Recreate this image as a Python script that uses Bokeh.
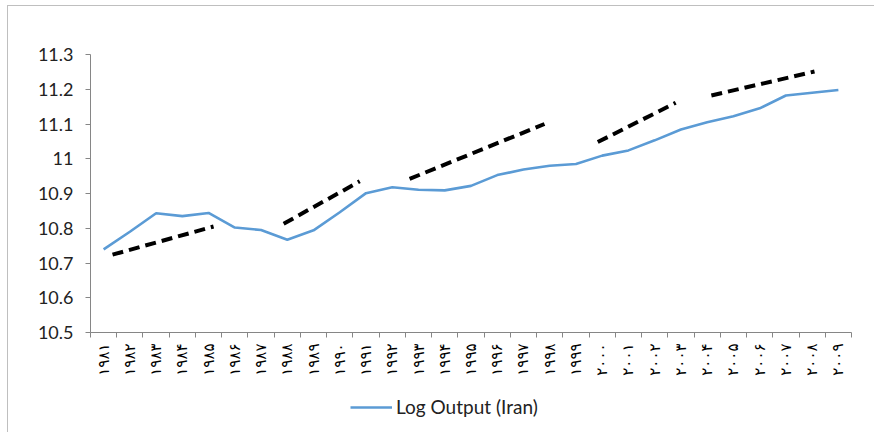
from bokeh.plotting import figure
from bokeh.layouts import column
from bokeh.models import FixedTicker, Legend, LegendItem, Range1d
from bokeh.embed import file_html
from bokeh.resources import INLINE

# ---------------- data ----------------
years = list(range(1981, 2010))
year_labels = ["۱۹۸۱", "۱۹۸۲", "۱۹۸۳", "۱۹۸۴", "۱۹۸۵", "۱۹۸۶", "۱۹۸۷", "۱۹۸۸", "۱۹۸۹", "۱۹۹۰",
               "۱۹۹۱", "۱۹۹۲", "۱۹۹۳", "۱۹۹۴", "۱۹۹۵", "۱۹۹۶", "۱۹۹۷", "۱۹۹۸", "۱۹۹۹", "۲۰۰۰",
               "۲۰۰۱", "۲۰۰۲", "۲۰۰۳", "۲۰۰۴", "۲۰۰۵", "۲۰۰۶", "۲۰۰۷", "۲۰۰۸", "۲۰۰۹"]
log_output = [10.739, 10.790, 10.843, 10.835, 10.844, 10.802, 10.795, 10.767, 10.794, 10.846,
              10.901, 10.918, 10.911, 10.909, 10.922, 10.953, 10.969, 10.980, 10.985, 11.009,
              11.024, 11.053, 11.084, 11.105, 11.122, 11.145, 11.182, 11.190, 11.198]
series_name = "Log Output (Iran)"

# dashed trend segments (start year, end year, start value, end value)
trend_x0 = [1981.34, 1987.86, 1992.66, 1999.83, 2004.16]
trend_x1 = [1985.19, 1990.76, 1997.80, 2002.80, 2008.09]
trend_y0 = [10.724, 10.813, 10.942, 11.048, 11.182]
trend_y1 = [10.805, 10.935, 11.100, 11.161, 11.251]

y_ticks = [10.5, 10.6, 10.7, 10.8, 10.9, 11.0, 11.1, 11.2, 11.3]
y_tick_labels = ["10.5", "10.6", "10.7", "10.8", "10.9", "11", "11.1", "11.2", "11.3"]

# ---------------- main figure ----------------
AXIS = "#868686"
BLUE = "#5B9BD5"
p = figure(width=866, height=380, output_backend="svg", toolbar_location=None,
           x_range=Range1d(years[0] - 0.5, years[-1] + 0.5),
           y_range=Range1d(y_ticks[0], y_ticks[-1]),
           min_border_left=82, min_border_right=23, min_border_top=48, min_border_bottom=54)
p.outline_line_color = None
p.xgrid.grid_line_color = None
p.ygrid.grid_line_color = None

p.line(years, log_output, line_color=BLUE, line_width=2.6)

p.segment(trend_x0, trend_y0, trend_x1, trend_y1, line_color="black", line_width=4,
          line_dash="11 6", line_cap="butt")

# x axis: labels at category centres, ticks at category boundaries
p.xaxis.ticker = FixedTicker(ticks=years, minor_ticks=[y - 0.5 for y in years] + [years[-1] + 0.5])
p.xaxis.major_label_overrides = {y: l for y, l in zip(years, year_labels)}
p.xaxis.major_label_orientation = 3.14159265 / 2
p.xaxis.major_tick_line_color = None
p.xaxis.minor_tick_line_color = AXIS
p.xaxis.minor_tick_in = 0
p.xaxis.minor_tick_out = 5
p.xaxis.axis_line_color = AXIS
p.xaxis.major_label_text_font = "DejaVu Sans"
p.xaxis.major_label_text_font_size = "15px"
p.xaxis.major_label_text_color = "black"
p.xaxis.major_label_standoff = 5

p.yaxis.ticker = FixedTicker(ticks=y_ticks)
p.yaxis.major_label_overrides = {t: l for t, l in zip(y_ticks, y_tick_labels)}
p.yaxis.minor_tick_line_color = None
p.yaxis.major_tick_line_color = AXIS
p.yaxis.major_tick_in = 0
p.yaxis.major_tick_out = 5
p.yaxis.axis_line_color = AXIS
p.yaxis.major_label_text_font = "Lato"
p.yaxis.major_label_text_font_size = "18px"
p.yaxis.major_label_text_color = "#222222"
p.yaxis.major_label_standoff = 12

# ---------------- legend strip (same series, outside its view; only the legend shows) ----
pl = figure(width=866, height=46, output_backend="svg", toolbar_location=None,
            x_range=Range1d(0, 1), y_range=Range1d(0, 1),
            x_axis_location=None, y_axis_location=None, min_border=0)
pl.outline_line_color = None
pl.xgrid.grid_line_color = None
pl.ygrid.grid_line_color = None
leg_r = pl.line(years, log_output, line_color=BLUE, line_width=2.6)
legend = Legend(items=[LegendItem(label=series_name, renderers=[leg_r])],
                location=(260, 14), orientation="horizontal",
                label_text_font="Lato", label_text_font_size="19px", label_text_color="#222222",
                glyph_width=42, label_standoff=4, padding=6, margin=0,
                border_line_color=None, background_fill_alpha=0)
pl.add_layout(legend, "center")

layout = column(p, pl, spacing=0,
                styles={"border-top": "1px solid #BFBFBF", "border-left": "1px solid #BFBFBF",
                        "margin-left": "7px", "margin-top": "5px"})

open("out.html", "w").write(file_html(layout, INLINE))
